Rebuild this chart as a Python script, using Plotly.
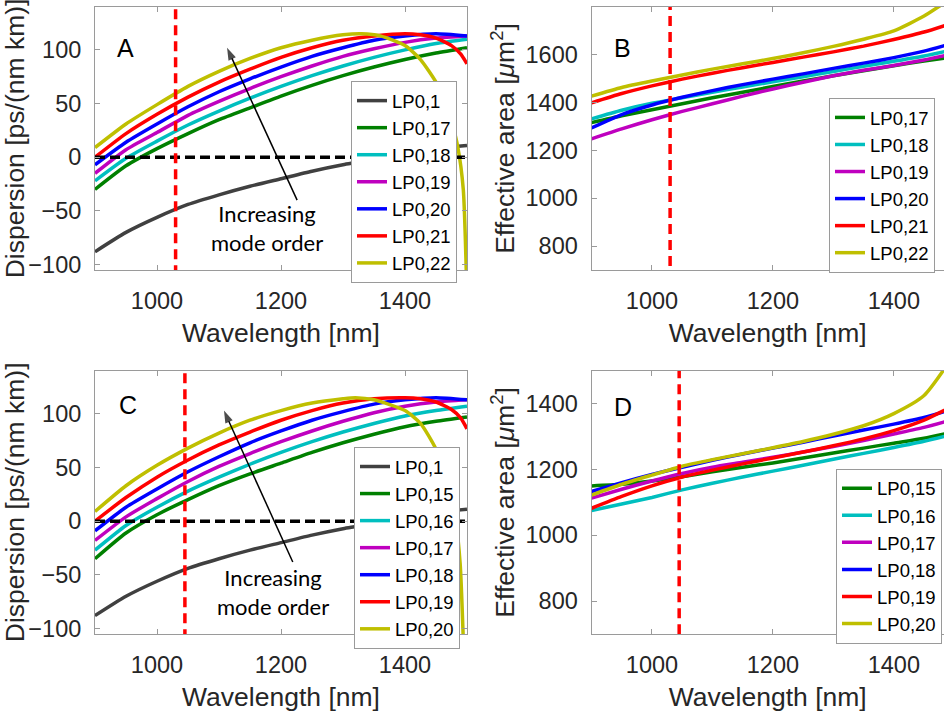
import plotly.graph_objects as go

# ---------------- data ----------------
wl = [900, 950, 1000, 1050, 1100, 1150, 1200, 1250, 1300, 1350, 1400, 1450, 1500]

# Panel A: dispersion
A_lp01 = [-88, -70, -56, -44, -35, -27, -20, -13, -7, -2, 3, 8, 11]
A_lp017 = [-30, -8, 8, 22, 35, 46, 57, 67, 76, 84, 91, 97, 102]
A_lp018 = [-22, -1, 15, 30, 43, 55, 66, 76, 85, 93, 100, 106, 110]
A_lp019 = [-15, 7, 23, 39, 52, 64, 75, 85, 94, 101, 107, 111, 113]
A_lp020 = [-7, 14, 31, 47, 61, 73, 84, 94, 102, 109, 113, 115, 113]
A_lp021_x = [900, 950, 1000, 1050, 1100, 1150, 1200, 1250, 1300, 1350, 1400, 1425, 1450, 1475, 1490, 1500]
A_lp021 = [0, 22, 40, 56, 70, 82, 93, 102, 109, 113, 115, 114, 111, 104, 96, 87]
A_lp022_x = [900, 950, 1000, 1050, 1100, 1150, 1200, 1250, 1300, 1330, 1360, 1400, 1425, 1450, 1470, 1485, 1494, 1499]
A_lp022 = [9, 31, 49, 66, 80, 92, 102, 109, 114, 115, 113, 104, 91, 70, 45, 10, -30, -110]

# Panel C: dispersion
C_lp01 = [-88, -70, -56, -44, -35, -27, -20, -13, -7, -2, 3, 8, 11]
C_lp015 = [-35, -11, 6, 20, 33, 44, 54, 64, 73, 81, 88, 93, 97]
C_lp016 = [-27, -4, 13, 28, 41, 53, 64, 74, 83, 91, 98, 103, 107]
C_lp017 = [-18, 4, 21, 37, 51, 63, 74, 84, 93, 101, 107, 111, 113]
C_lp018 = [-9, 13, 30, 46, 60, 73, 84, 94, 102, 109, 113, 115, 113]
C_lp019_x = [900, 950, 1000, 1050, 1100, 1150, 1200, 1250, 1300, 1350, 1400, 1425, 1450, 1475, 1490, 1500]
C_lp019 = [0, 22, 41, 57, 71, 83, 94, 103, 110, 114, 115, 114, 111, 104, 96, 86]
C_lp020_x = [900, 950, 1000, 1050, 1100, 1150, 1200, 1250, 1300, 1320, 1350, 1400, 1425, 1450, 1470, 1482, 1489, 1494]
C_lp020 = [9, 33, 52, 68, 82, 94, 103, 110, 114, 115, 113, 103, 91, 67, 35, 0, -40, -110]

# Panel B: effective area
B_lp017 = [1316, 1345, 1370, 1395, 1420, 1443, 1467, 1490, 1512, 1533, 1554, 1574, 1592]
B_lp018 = [1332, 1368, 1397, 1420, 1443, 1465, 1487, 1508, 1530, 1552, 1573, 1595, 1622]
B_lp019 = [1248, 1290, 1328, 1363, 1395, 1427, 1457, 1485, 1512, 1535, 1555, 1578, 1605]
B_lp020 = [1294, 1350, 1390, 1422, 1450, 1475, 1498, 1520, 1543, 1565, 1588, 1615, 1650]
B_lp021 = [1399, 1438, 1470, 1498, 1523, 1546, 1568, 1590, 1612, 1636, 1664, 1695, 1735]
B_lp022 = [1427, 1463, 1490, 1515, 1540, 1562, 1584, 1608, 1635, 1665, 1700, 1762, 1845]

# Panel D: effective area
D_lp015 = [1150, 1155, 1165, 1178, 1193, 1207, 1220, 1235, 1250, 1265, 1280, 1295, 1315]
D_lp016 = [1075, 1095, 1115, 1138, 1158, 1177, 1195, 1213, 1231, 1249, 1267, 1286, 1308]
D_lp017 = [1113, 1140, 1165, 1188, 1207, 1222, 1237, 1253, 1270, 1288, 1308, 1328, 1353]
D_lp018 = [1133, 1160, 1185, 1207, 1228, 1247, 1265, 1283, 1302, 1320, 1338, 1358, 1385]
D_lp019 = [1082, 1118, 1150, 1177, 1198, 1217, 1235, 1253, 1272, 1293, 1318, 1350, 1395]
D_lp020 = [1122, 1155, 1183, 1210, 1230, 1248, 1266, 1285, 1307, 1333, 1370, 1425, 1550]

# operating wavelengths (red dashed markers)
pump_AB = 1030
pump_CD = 1045

# "Increasing mode order" arrows: tail -> head (data units)
arrowA_x = [1226, 1113]
arrowA_y = [-40, 102]
arrowC_x = [1219, 1108]
arrowC_y = [-38, 103]

x_ticks = [1000, 1200, 1400]
disp_ticks = [-100, -50, 0, 50, 100]
B_ticks = [800, 1000, 1200, 1400, 1600, 1800]
D_ticks = [800, 1000, 1200, 1400]

# ---------------- styling ----------------
COL = {
    "gray": "#404040",
    "green": "#008000",
    "cyan": "#00BFBF",
    "magenta": "#BF00BF",
    "blue": "#0000FF",
    "red": "#FF0000",
    "yellow": "#BFBF00",
}
LW = 3.5
TXT = "#262626"
FRAME = "#9a9a9a"
FONT = "Liberation Sans, Arial, sans-serif"

fig = go.Figure()


def add(x, y, name, color, ax, legend):
    fig.add_trace(go.Scatter(
        x=x, y=y, name=name, mode="lines",
        line=dict(color=color, width=LW, shape="spline", smoothing=0.6),
        xaxis="x" + ax, yaxis="y" + ax, legend=legend,
    ))


# Panel A
add(wl, A_lp01, "LP0,1", COL["gray"], "", "legend")
add(wl, A_lp017, "LP0,17", COL["green"], "", "legend")
add(wl, A_lp018, "LP0,18", COL["cyan"], "", "legend")
add(wl, A_lp019, "LP0,19", COL["magenta"], "", "legend")
add(wl, A_lp020, "LP0,20", COL["blue"], "", "legend")
add(A_lp021_x, A_lp021, "LP0,21", COL["red"], "", "legend")
add(A_lp022_x, A_lp022, "LP0,22", COL["yellow"], "", "legend")

# Panel B
add(wl, B_lp017, "LP0,17", COL["green"], "2", "legend2")
add(wl, B_lp018, "LP0,18", COL["cyan"], "2", "legend2")
add(wl, B_lp019, "LP0,19", COL["magenta"], "2", "legend2")
add(wl, B_lp020, "LP0,20", COL["blue"], "2", "legend2")
add(wl, B_lp021, "LP0,21", COL["red"], "2", "legend2")
add(wl, B_lp022, "LP0,22", COL["yellow"], "2", "legend2")

# Panel C
add(wl, C_lp01, "LP0,1", COL["gray"], "3", "legend3")
add(wl, C_lp015, "LP0,15", COL["green"], "3", "legend3")
add(wl, C_lp016, "LP0,16", COL["cyan"], "3", "legend3")
add(wl, C_lp017, "LP0,17", COL["magenta"], "3", "legend3")
add(wl, C_lp018, "LP0,18", COL["blue"], "3", "legend3")
add(C_lp019_x, C_lp019, "LP0,19", COL["red"], "3", "legend3")
add(C_lp020_x, C_lp020, "LP0,20", COL["yellow"], "3", "legend3")

# Panel D
add(wl, D_lp015, "LP0,15", COL["green"], "4", "legend4")
add(wl, D_lp016, "LP0,16", COL["cyan"], "4", "legend4")
add(wl, D_lp017, "LP0,17", COL["magenta"], "4", "legend4")
add(wl, D_lp018, "LP0,18", COL["blue"], "4", "legend4")
add(wl, D_lp019, "LP0,19", COL["red"], "4", "legend4")
add(wl, D_lp020, "LP0,20", COL["yellow"], "4", "legend4")

# zero-dispersion dashed lines (A, C)
for ax in ["", "3"]:
    fig.add_trace(go.Scatter(
        x=[wl[0], wl[-1]], y=[0, 0], mode="lines", showlegend=False,
        line=dict(color="black", width=3.5, dash="10px,5px"),
        xaxis="x" + ax, yaxis="y" + ax, hoverinfo="skip",
    ))

# pump wavelength markers
for ax, lam, rng in [("", pump_AB, [-110, 145]), ("2", pump_AB, [650, 1850]),
                     ("3", pump_CD, [-110, 145]), ("4", pump_CD, [650, 1550])]:
    fig.add_trace(go.Scatter(
        x=[lam, lam], y=rng, mode="lines", showlegend=False,
        line=dict(color="#FF0000", width=3.5, dash="10px,6px"),
        xaxis="x" + ax, yaxis="y" + ax, hoverinfo="skip",
    ))

# arrows (line + oriented arrow-head marker)
for ax, xs, ys in [("", arrowA_x, arrowA_y), ("3", arrowC_x, arrowC_y)]:
    fig.add_trace(go.Scatter(
        x=xs, y=ys, mode="lines+markers", showlegend=False,
        line=dict(color="black", width=1.5),
        marker=dict(symbol="arrow", size=[0, 13], angleref="previous",
                    color="black", line=dict(width=0)),
        xaxis="x" + ax, yaxis="y" + ax, hoverinfo="skip",
    ))

# ---------------- layout ----------------
W, H = 944, 721


def px_x(p):
    return p / W


def px_y(p):
    return 1 - p / H


xdomL = [px_x(95), px_x(467)]
xdomR = [px_x(591.5), 1.0]
ydomT = [px_y(273), px_y(7)]
ydomB = [px_y(641), px_y(375)]

common = dict(
    showline=True, linecolor=FRAME, linewidth=1,
    ticks="inside", ticklen=5, tickwidth=1, tickcolor=FRAME,
    showgrid=False, zeroline=False,
    tickfont=dict(family=FONT, size=23.5, color=TXT),
    title_font=dict(family=FONT, size=26.5, color=TXT),
)


def xax(dom, anchor, rng):
    d = dict(common)
    d.update(domain=dom, anchor=anchor, range=rng, tickvals=x_ticks,
             mirror="ticks", ticklabelstandoff=10,
             title=dict(text="Wavelength [nm]", standoff=10))
    return d


def yax(dom, anchor, rng, ticks, title, mirror):
    d = dict(common)
    d.update(domain=dom, anchor=anchor, range=rng, tickvals=ticks,
             mirror=mirror, ticklabelstandoff=8,
             title=dict(text=title, standoff=3))
    return d


area_title = "Effective area [<i>μ</i>m<sup>2</sup>]"
disp_title = "Dispersion [ps/(nm km)]"

leg_common = dict(
    bgcolor="white", bordercolor=FRAME, borderwidth=1,
    font=dict(family=FONT, size=18.5, color="black"),
    xanchor="right", yanchor="top", tracegroupgap=0,
)

fig.update_layout(
    width=W, height=H,
    margin=dict(l=0, r=0, t=0, b=0),
    paper_bgcolor="white", plot_bgcolor="white",
    font=dict(family=FONT, color=TXT),
    xaxis=xax(xdomL, "y", [900, 1500]),
    yaxis=yax(ydomT, "x", [-105, 140], disp_ticks, disp_title, "ticks"),
    xaxis2=xax(xdomR, "y2", [900, 1483]),
    yaxis2=yax(ydomT, "x2", [700, 1800], B_ticks, area_title, False),
    xaxis3=xax(xdomL, "y3", [900, 1500]),
    yaxis3=yax(ydomB, "x3", [-105, 140], disp_ticks, disp_title, "ticks"),
    xaxis4=xax(xdomR, "y4", [900, 1483]),
    yaxis4=yax(ydomB, "x4", [700, 1500], D_ticks, area_title, False),
    legend=dict(leg_common, x=px_x(457), y=px_y(82)),
    legend2=dict(leg_common, x=px_x(935), y=px_y(99)),
    legend3=dict(leg_common, x=px_x(460), y=px_y(452)),
    legend4=dict(leg_common, x=px_x(942), y=px_y(474)),
    showlegend=True,
)

# panel letters
for ax, letter, xd, yd in [("", "A", 0.054, 0.906), ("2", "B", 0.058, 0.906),
                           ("3", "C", 0.059, 0.93), ("4", "D", 0.058, 0.925)]:
    fig.add_annotation(
        text=letter, xref=("x" + ax if ax else "x") + " domain",
        yref=("y" + ax if ax else "y") + " domain",
        x=xd, y=yd, showarrow=False,
        font=dict(family=FONT, size=25, color="black"),
    )

# "Increasing mode order" labels
for ax, tx, ty in [("", 1177, -66), ("3", 1187, -66)]:
    fig.add_annotation(
        x=tx, y=ty, xref="x" + ax, yref="y" + ax,
        text="Increasing<br>mode order", showarrow=False,
        font=dict(family="Lato, Open Sans, sans-serif", size=22, color="black"),
    )

fig.write_html(
    "out.html",
    config={"displayModeBar": False},
    post_script="document.body.style.margin='0';document.body.style.padding='0';"
                "document.documentElement.style.overflow='hidden';",
)
